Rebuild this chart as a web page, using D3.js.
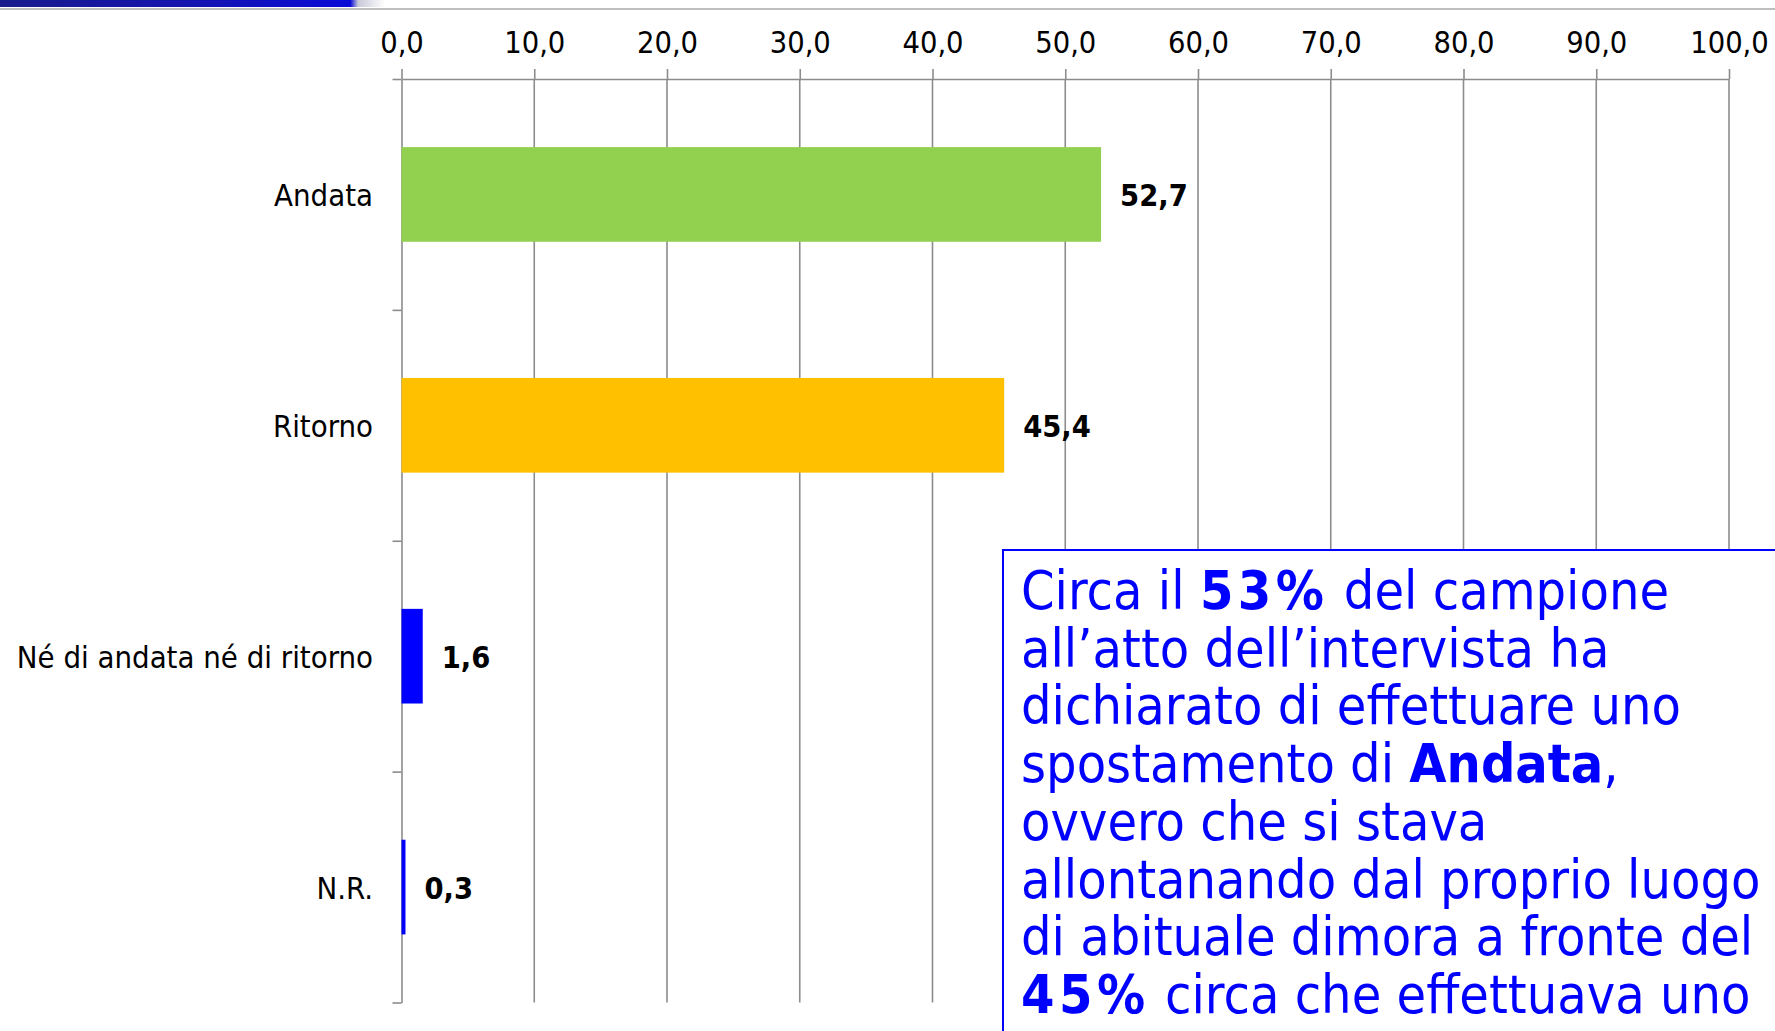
<!DOCTYPE html>
<html>
<head>
<meta charset="utf-8">
<script src="https://cdn.jsdelivr.net/npm/d3@7"></script>
<style>
  html, body { margin: 0; padding: 0; background: #fff; }
  svg { display: block; }
  text { font-family: "DejaVu Sans Condensed", "DejaVu Sans", sans-serif; font-stretch: condensed; }
</style>
</head>
<body>
<svg id="chart" width="1775" height="1031"></svg>
<script>
// ---- data ----
const categories = ["Andata", "Ritorno", "Né di andata né di ritorno", "N.R."];
const values = [52.7, 45.4, 1.6, 0.3];
const barColors = ["#92D050", "#FFC000", "#0000FF", "#0000FF"];
const tickValues = [0, 10, 20, 30, 40, 50, 60, 70, 80, 90, 100];
const noteLines = [
  [{t: "Circa il "}, {t: "53%", b: true}, {t: " del campione"}],
  [{t: "all’atto dell’intervista ha"}],
  [{t: "dichiarato di effettuare uno"}],
  [{t: "spostamento di "}, {t: "Andata", b: true}, {t: ","}],
  [{t: "ovvero che si stava"}],
  [{t: "allontanando dal proprio luogo"}],
  [{t: "di abituale dimora a fronte del"}],
  [{t: "45%", b: true}, {t: " circa che effettuava uno"}]
];

// ---- layout ----
const W = 1775, H = 1031;
const xLeft = 401.5, xRight = 1729, yTop = 79, yBottom = 1002.5;
const gridColor = "#8c8c8c";
const svg = d3.select("#chart");

const itLocale = d3.formatLocale({decimal: ",", thousands: ".", grouping: [3], currency: ["", "€"]});
const fmt1 = itLocale.format(".1f");

// top banner
const defs = svg.append("defs");
const grad = defs.append("linearGradient").attr("id", "banner").attr("x1", "0").attr("x2", "1");
grad.append("stop").attr("offset", "0").attr("stop-color", "#1a1a8c");
grad.append("stop").attr("offset", "0.5").attr("stop-color", "#1414b0");
grad.append("stop").attr("offset", "0.91").attr("stop-color", "#0a0ad8");
grad.append("stop").attr("offset", "0.93").attr("stop-color", "#c8c8d8");
grad.append("stop").attr("offset", "1").attr("stop-color", "#ffffff");
svg.append("rect").attr("x", 0).attr("y", 0).attr("width", 385).attr("height", 7).attr("fill", "url(#banner)");
svg.append("line").attr("x1", 0).attr("x2", W).attr("y1", 9).attr("y2", 9)
  .attr("stroke", "#a8a8a8").attr("stroke-width", 1.6);

// scales
const x = d3.scaleLinear().domain([0, 100]).range([xLeft, xRight]);
const y = d3.scaleBand().domain(categories).range([yTop, yBottom]).paddingInner(0.59).paddingOuter(0.295);
const yIdx = d3.scaleLinear().domain([0, categories.length]).range([yTop, yBottom]);

// gridlines
svg.append("g").selectAll("line").data(tickValues.filter(d => d > 0)).join("line")
  .attr("x1", d => x(d)).attr("x2", d => x(d))
  .attr("y1", yTop).attr("y2", yBottom)
  .attr("stroke", gridColor).attr("stroke-width", 1.6);

// top axis
const xAxis = svg.append("g").attr("transform", `translate(0,${yTop})`)
  .call(d3.axisTop(x).tickValues(tickValues).tickFormat(fmt1).tickSizeInner(10).tickSizeOuter(0).tickPadding(16));
xAxis.select(".domain").attr("stroke", gridColor).attr("stroke-width", 1.6);
xAxis.selectAll(".tick line").attr("stroke", gridColor).attr("stroke-width", 1.6);
xAxis.selectAll(".tick text").attr("fill", "#000").style("font-size", "30.5px")
  .style("font-family", "'DejaVu Sans Condensed','DejaVu Sans',sans-serif");

// left axis (band boundaries)
const yAxis = svg.append("g").attr("transform", `translate(${xLeft},0)`)
  .call(d3.axisLeft(yIdx).tickValues(d3.range(categories.length + 1)).tickFormat("").tickSizeInner(9).tickSizeOuter(0));
yAxis.select(".domain").attr("stroke", gridColor).attr("stroke-width", 1.6);
yAxis.selectAll(".tick line").attr("stroke", gridColor).attr("stroke-width", 1.6);

// category labels
svg.append("g").selectAll("text").data(categories).join("text")
  .attr("x", 373).attr("y", d => y(d) + y.bandwidth() / 2 + 0.5)
  .attr("text-anchor", "end").attr("dominant-baseline", "central")
  .style("font-size", "30.8px").attr("fill", "#000")
  .text(d => d);

// bars
svg.append("g").selectAll("rect").data(categories).join("rect")
  .attr("x", x(0)).attr("y", d => y(d))
  .attr("width", (d, i) => x(values[i]) - x(0))
  .attr("height", y.bandwidth())
  .attr("fill", (d, i) => barColors[i]);

// value labels
svg.append("g").selectAll("text").data(categories).join("text")
  .attr("x", (d, i) => x(values[i]) + 19).attr("y", d => y(d) + y.bandwidth() / 2 + 1.5)
  .attr("dominant-baseline", "central")
  .style("font-size", "30.5px").style("font-weight", "bold").attr("fill", "#000")
  .text((d, i) => fmt1(values[i]));

// note box
svg.append("rect").attr("x", 1003).attr("y", 550).attr("width", 900).attr("height", 600)
  .attr("fill", "#fff").attr("stroke", "#0000FF").attr("stroke-width", 2);
const note = svg.append("text").attr("fill", "#0000FF").style("font-size", "53.5px");
noteLines.forEach((line, li) => {
  line.forEach((seg, si) => {
    const ts = note.append("tspan").text(seg.t);
    if (si === 0) ts.attr("x", 1021).attr("y", 609 + li * 57.7);
    if (seg.b) ts.style("font-weight", "bold");
    if (seg.b && /\d/.test(seg.t)) ts.style("letter-spacing", "4.5px");
  });
});
</script>
</body>
</html>
